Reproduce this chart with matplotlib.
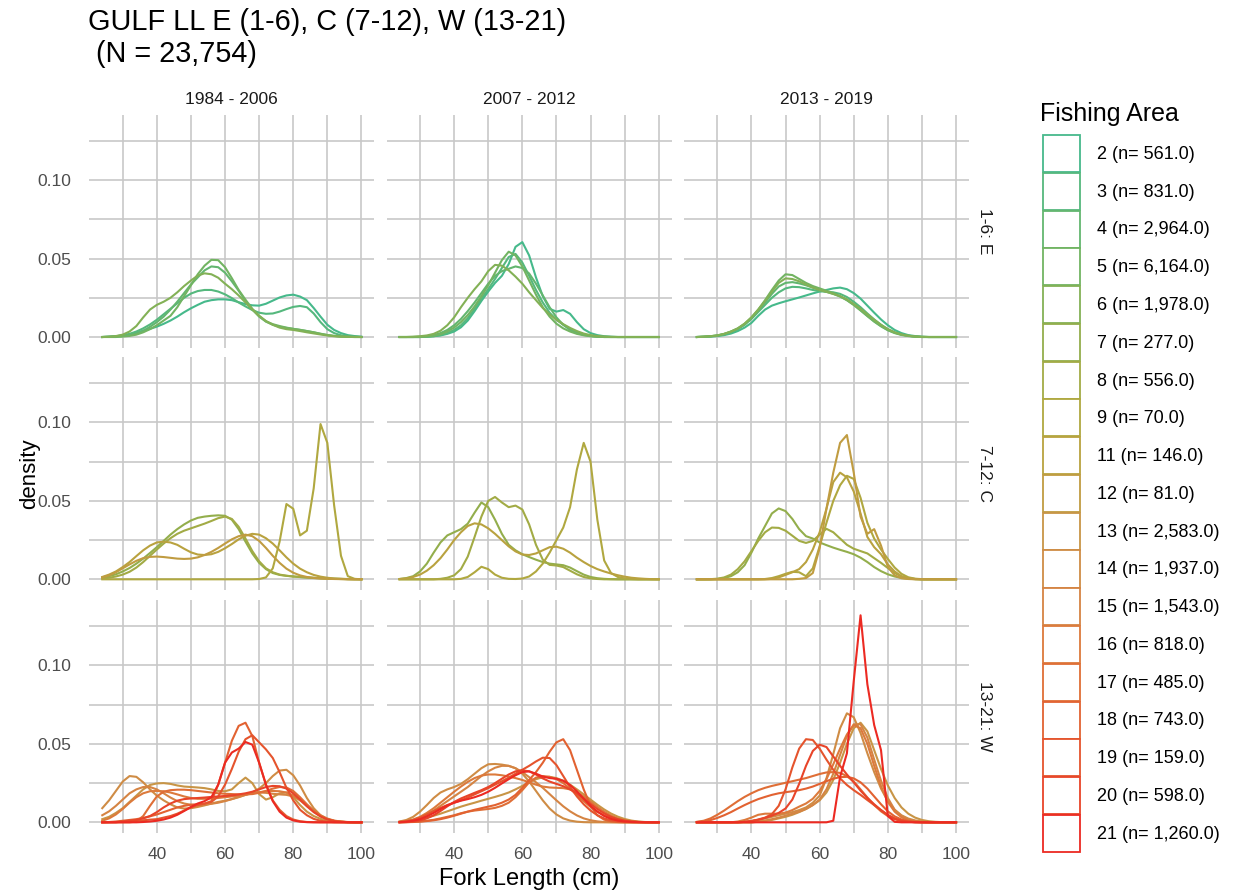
import matplotlib.pyplot as plt
from matplotlib.patches import Patch

plt.rcParams['font.family'] = ['Liberation Sans', 'DejaVu Sans']

# -----------------------------------------------------------------------------
# Data: density of fork length (cm) by fishing area, period and region
# -----------------------------------------------------------------------------
FORK_LENGTH = [24, 26, 28, 30, 32, 34, 36, 38,
               40, 42, 44, 46, 48, 50, 52, 54, 56, 58,
               60, 62, 64, 66, 68, 70, 72, 74, 76, 78,
               80, 82, 84, 86, 88, 90, 92, 94, 96, 98, 100]

AREAS = [2, 3, 4, 5, 6, 7, 8, 9, 11, 12, 13, 14, 15, 16, 17, 18, 19, 20, 21]
AREA_COUNTS = [561, 831, 2964, 6164, 1978, 277, 556, 70, 146, 81,
               2583, 1937, 1543, 818, 485, 743, 159, 598, 1260]
AREA_COLORS = ["#46b98b", "#55b87d", "#63b66f", "#72b462", "#83b156",
               "#93ae4c", "#a2ab45", "#b0a840", "#b9a23f", "#c09c41",
               "#c89546", "#cf8c45", "#d58443", "#dc7a3c", "#df6e36",
               "#e26231", "#e5542d", "#e84429", "#ec2a22"]

PERIODS = ["1984 - 2006", "2007 - 2012", "2013 - 2019"]
REGIONS = ["1-6: E", "7-12: C", "13-21: W"]

E_1984 = {
    2: [0, 0.0002, 0.0005, 0.001, 0.0017, 0.0027, 0.004, 0.0052,
        0.0066, 0.0084, 0.0105, 0.013, 0.0158, 0.0183, 0.0205, 0.0225, 0.0235, 0.024,
        0.024, 0.0235, 0.0222, 0.021, 0.0202, 0.020, 0.0212, 0.0232, 0.0252, 0.0265,
        0.027, 0.0258, 0.0235, 0.0185, 0.013, 0.0078, 0.0045, 0.0025, 0.0012, 0.0006, 0.0002],
    3: [0, 0.0002, 0.0005, 0.001, 0.002, 0.0035, 0.0055, 0.008,
        0.011, 0.0145, 0.018, 0.0215, 0.025, 0.0277, 0.0293, 0.030, 0.030, 0.029,
        0.0272, 0.0248, 0.022, 0.0195, 0.0172, 0.0155, 0.0148, 0.015, 0.0162, 0.0178,
        0.0192, 0.0198, 0.019, 0.015, 0.0095, 0.005, 0.0025, 0.0011, 0.0005, 0.0002, 0],
    4: [0, 0.0001, 0.0003, 0.0006, 0.0012, 0.0022, 0.004, 0.0065,
        0.0095, 0.013, 0.0175, 0.0225, 0.028, 0.0335, 0.038, 0.0425, 0.045, 0.0445,
        0.041, 0.0355, 0.0295, 0.023, 0.0175, 0.013, 0.0098, 0.0078, 0.0065, 0.0058,
        0.0052, 0.0046, 0.0038, 0.003, 0.0021, 0.0013, 0.0007, 0.0003, 0.0001, 0, 0],
    5: [0, 0, 0, 0.0003, 0.0007, 0.0015, 0.003, 0.005,
        0.0075, 0.0105, 0.0135, 0.019, 0.026, 0.033, 0.040, 0.0455, 0.0492, 0.049,
        0.0445, 0.0375, 0.030, 0.0238, 0.018, 0.0135, 0.010, 0.0082, 0.007, 0.006,
        0.0052, 0.0045, 0.0038, 0.003, 0.002, 0.0012, 0.0007, 0.0004, 0.0002, 0.0001, 0],
    6: [0, 0.0002, 0.0006, 0.0015, 0.0035, 0.007, 0.0125, 0.0175,
        0.0205, 0.0225, 0.025, 0.0285, 0.0325, 0.036, 0.0392, 0.0406, 0.040, 0.0378,
        0.034, 0.0305, 0.0265, 0.022, 0.0175, 0.0135, 0.0102, 0.0078, 0.006, 0.005,
        0.0045, 0.0038, 0.003, 0.0023, 0.0016, 0.001, 0.0005, 0.0002, 0.0001, 0, 0],
}

E_2007 = {
    2: [0, 0, 0, 0, 0.0002, 0.0005, 0.001, 0.002,
        0.0035, 0.0062, 0.0105, 0.0165, 0.023, 0.029, 0.0345, 0.039, 0.0465, 0.0575,
        0.0605, 0.052, 0.038, 0.026, 0.018, 0.0162, 0.0172, 0.0148, 0.0095, 0.005,
        0.0025, 0.0012, 0.0005, 0.0002, 0, 0, 0, 0, 0, 0, 0],
    3: [0, 0, 0, 0, 0.0002, 0.0005, 0.0012, 0.0025,
        0.0045, 0.0075, 0.012, 0.018, 0.0245, 0.0305, 0.037, 0.044, 0.051, 0.053,
        0.0475, 0.039, 0.030, 0.022, 0.0155, 0.011, 0.0078, 0.0052, 0.003, 0.0016,
        0.0008, 0.0003, 0.0001, 0, 0, 0, 0, 0, 0, 0, 0],
    4: [0, 0, 0, 0.0002, 0.0005, 0.0012, 0.0025, 0.0045,
        0.0075, 0.0115, 0.0165, 0.022, 0.028, 0.034, 0.039, 0.042, 0.0435, 0.045,
        0.044, 0.0405, 0.034, 0.0265, 0.019, 0.0125, 0.0078, 0.0045, 0.0025, 0.0013,
        0.0006, 0.0002, 0, 0, 0, 0, 0, 0, 0, 0, 0],
    5: [0, 0, 0, 0, 0.0003, 0.0008, 0.0018, 0.0035,
        0.006, 0.0095, 0.014, 0.0195, 0.026, 0.033, 0.041, 0.049, 0.0544, 0.052,
        0.045, 0.036, 0.027, 0.019, 0.013, 0.0085, 0.0055, 0.0035, 0.002, 0.0011,
        0.0005, 0.0002, 0, 0, 0, 0, 0, 0, 0, 0, 0],
    6: [0, 0, 0.0002, 0.0005, 0.001, 0.002, 0.004, 0.0075,
        0.0125, 0.019, 0.025, 0.0305, 0.0355, 0.042, 0.046, 0.0455, 0.0425, 0.0385,
        0.034, 0.0285, 0.0235, 0.0185, 0.0145, 0.011, 0.0082, 0.0058, 0.0038, 0.0022,
        0.0012, 0.0006, 0.0003, 0.0001, 0, 0, 0, 0, 0, 0, 0],
}

E_2013 = {
    2: [0, 0.0001, 0.0003, 0.0006, 0.0012, 0.0022, 0.0038, 0.006,
        0.009, 0.0135, 0.0175, 0.020, 0.0215, 0.0228, 0.024, 0.0252, 0.0265, 0.0278,
        0.029, 0.030, 0.031, 0.0315, 0.0305, 0.028, 0.0245, 0.020, 0.0155, 0.0112,
        0.0075, 0.0045, 0.0025, 0.0012, 0.0006, 0.0002, 0, 0, 0, 0, 0],
    3: [0, 0.0001, 0.0004, 0.0008, 0.0016, 0.003, 0.005, 0.0078,
        0.0115, 0.016, 0.0205, 0.025, 0.0285, 0.031, 0.032, 0.0318, 0.031, 0.030,
        0.0292, 0.0288, 0.0285, 0.0275, 0.0255, 0.0225, 0.019, 0.015, 0.0112, 0.0078,
        0.005, 0.003, 0.0016, 0.0008, 0.0003, 0, 0, 0, 0, 0, 0],
    4: [0, 0.0002, 0.0005, 0.001, 0.0019, 0.0033, 0.0053, 0.008,
        0.012, 0.0168, 0.022, 0.0275, 0.0322, 0.0345, 0.035, 0.0342, 0.033, 0.0315,
        0.030, 0.0288, 0.0275, 0.0258, 0.0235, 0.0205, 0.017, 0.0133, 0.0098, 0.0068,
        0.0043, 0.0025, 0.0013, 0.0006, 0.0002, 0, 0, 0, 0, 0, 0],
    5: [0, 0.0002, 0.0005, 0.001, 0.002, 0.0035, 0.0055, 0.0085,
        0.0125, 0.0175, 0.0235, 0.030, 0.036, 0.040, 0.0395, 0.037, 0.0345, 0.0325,
        0.031, 0.0295, 0.028, 0.026, 0.0235, 0.0205, 0.017, 0.0135, 0.010, 0.007,
        0.0045, 0.0027, 0.0015, 0.0008, 0.0003, 0.0001, 0, 0, 0, 0, 0],
    6: [0, 0.0002, 0.0005, 0.001, 0.002, 0.0035, 0.0055, 0.0085,
        0.0125, 0.0175, 0.023, 0.029, 0.0345, 0.0374, 0.037, 0.0355, 0.0335, 0.0315,
        0.030, 0.0288, 0.0275, 0.026, 0.024, 0.021, 0.018, 0.0145, 0.011, 0.0078,
        0.005, 0.003, 0.0016, 0.0008, 0.0003, 0.0001, 0, 0, 0, 0, 0],
}

C_1984 = {
    7: [0.0012, 0.002, 0.0032, 0.005, 0.0072, 0.010, 0.0132, 0.0168,
        0.0205, 0.0245, 0.0285, 0.032, 0.035, 0.0375, 0.0392, 0.040, 0.0405, 0.0408,
        0.0405, 0.038, 0.032, 0.024, 0.0165, 0.0105, 0.0065, 0.004, 0.0028, 0.0022,
        0.0018, 0.0015, 0.0012, 0.001, 0.0008, 0.0006, 0.0004, 0.0003, 0.0002, 0.0001, 0.0001],
    8: [0.0005, 0.001, 0.0018, 0.003, 0.0048, 0.0075, 0.011, 0.015,
        0.019, 0.0228, 0.0262, 0.029, 0.031, 0.0325, 0.034, 0.0355, 0.0372, 0.039,
        0.040, 0.0385, 0.0335, 0.026, 0.018, 0.0115, 0.007, 0.0045, 0.003, 0.0023,
        0.0018, 0.0014, 0.0011, 0.0008, 0.0006, 0.0004, 0.0003, 0.0002, 0.0001, 0, 0],
    9: [0, 0, 0, 0, 0, 0, 0, 0,
        0, 0, 0, 0, 0, 0, 0, 0, 0, 0,
        0, 0, 0, 0, 0, 0.0002, 0.0012, 0.007, 0.024, 0.048,
        0.045, 0.028, 0.031, 0.058, 0.099, 0.087, 0.047, 0.015, 0.002, 0.0003, 0],
    11: [0.0015, 0.003, 0.005, 0.0078, 0.011, 0.0148, 0.0185, 0.0215,
         0.0235, 0.024, 0.0235, 0.022, 0.0195, 0.0172, 0.0158, 0.0155, 0.016, 0.0175,
         0.0198, 0.0225, 0.0255, 0.0278, 0.029, 0.0285, 0.0262, 0.0228, 0.0185, 0.014,
         0.010, 0.0068, 0.0045, 0.0028, 0.0017, 0.001, 0.0005, 0.0003, 0.0001, 0, 0],
    12: [0.0012, 0.0025, 0.0045, 0.007, 0.0095, 0.0118, 0.0135, 0.0143,
         0.0145, 0.0142, 0.0137, 0.0132, 0.013, 0.0132, 0.014, 0.0155, 0.0175, 0.020,
         0.0228, 0.0255, 0.0275, 0.0285, 0.0275, 0.0245, 0.020, 0.015, 0.0105, 0.0068,
         0.0042, 0.0025, 0.0015, 0.0009, 0.0005, 0.0003, 0.0002, 0.0001, 0, 0, 0],
}

C_2007 = {
    7: [0.0002, 0.0008, 0.002, 0.005, 0.010, 0.017, 0.0235, 0.028,
        0.030, 0.032, 0.0355, 0.0425, 0.049, 0.046, 0.038, 0.029, 0.022, 0.0185,
        0.016, 0.0142, 0.0125, 0.011, 0.010, 0.0095, 0.009, 0.0075, 0.0052, 0.003,
        0.0015, 0.0007, 0.0003, 0.0001, 0, 0, 0, 0, 0, 0, 0],
    8: [0, 0, 0, 0, 0, 0, 0.0003, 0.001,
        0.0025, 0.0065, 0.0145, 0.027, 0.040, 0.050, 0.0525, 0.049, 0.046, 0.047,
        0.0445, 0.035, 0.022, 0.0125, 0.0092, 0.0088, 0.0078, 0.0055, 0.0032, 0.0015,
        0.0006, 0.0002, 0, 0, 0, 0, 0, 0, 0, 0, 0],
    9: [0, 0, 0, 0, 0, 0, 0, 0,
        0, 0.0003, 0.0015, 0.0045, 0.008, 0.0065, 0.003, 0.001, 0.0003, 0.0002,
        0.0005, 0.0018, 0.005, 0.010, 0.017, 0.025, 0.033, 0.046, 0.070, 0.087,
        0.075, 0.038, 0.012, 0.004, 0.0015, 0.0006, 0.0002, 0, 0, 0, 0],
    11: [0.0002, 0.0006, 0.0015, 0.003, 0.0055, 0.009, 0.0135, 0.019,
         0.025, 0.030, 0.034, 0.0357, 0.035, 0.0325, 0.029, 0.025, 0.021, 0.0178,
         0.0158, 0.0155, 0.0165, 0.0185, 0.0205, 0.0208, 0.0195, 0.017, 0.0138, 0.011,
         0.0085, 0.0065, 0.005, 0.0037, 0.0026, 0.0017, 0.001, 0.0006, 0.0003, 0.0001, 0],
}

C_2013 = {
    7: [0, 0, 0, 0.0002, 0.0008, 0.002, 0.0045, 0.009,
        0.017, 0.026, 0.034, 0.042, 0.0452, 0.0435, 0.0385, 0.032, 0.0275, 0.026,
        0.0235, 0.0218, 0.0202, 0.0188, 0.0175, 0.016, 0.0138, 0.011, 0.0078, 0.0052,
        0.0032, 0.0018, 0.0009, 0.0004, 0.0001, 0, 0, 0, 0, 0, 0],
    8: [0, 0, 0.0001, 0.0004, 0.0012, 0.003, 0.0065, 0.0115,
        0.018, 0.0245, 0.030, 0.033, 0.0328, 0.031, 0.0278, 0.0245, 0.0232, 0.0245,
        0.0285, 0.0322, 0.030, 0.026, 0.022, 0.0195, 0.018, 0.0165, 0.0135, 0.0105,
        0.0072, 0.004, 0.0018, 0.0007, 0.0002, 0, 0, 0, 0, 0, 0],
    9: [0, 0, 0, 0, 0, 0, 0, 0,
        0, 0, 0.0002, 0.0008, 0.002, 0.0035, 0.0048, 0.0045, 0.002, 0.007,
        0.021, 0.036, 0.050, 0.060, 0.066, 0.064, 0.052, 0.036, 0.026, 0.019,
        0.013, 0.0075, 0.0035, 0.0013, 0.0004, 0.0001, 0, 0, 0, 0, 0],
    11: [0, 0, 0, 0, 0, 0, 0, 0,
         0, 0, 0, 0.0003, 0.0012, 0.0028, 0.0045, 0.0065, 0.011, 0.019,
         0.030, 0.045, 0.062, 0.068, 0.065, 0.056, 0.042, 0.027, 0.0205, 0.016,
         0.0095, 0.005, 0.002, 0.0007, 0.0002, 0, 0, 0, 0, 0, 0],
    12: [0, 0, 0, 0, 0, 0, 0, 0,
         0, 0, 0, 0, 0, 0, 0, 0.0003, 0.0008, 0.004,
         0.020, 0.045, 0.068, 0.087, 0.092, 0.068, 0.040, 0.029, 0.032, 0.0215,
         0.008, 0.0025, 0.0007, 0.0002, 0, 0, 0, 0, 0, 0, 0],
}

W_1984 = {
    13: [0.002, 0.0035, 0.006, 0.009, 0.013, 0.017, 0.021, 0.0238,
         0.0248, 0.025, 0.0245, 0.0235, 0.0228, 0.0225, 0.0222, 0.0218, 0.021, 0.020,
         0.0198, 0.021, 0.025, 0.0285, 0.025, 0.018, 0.0145, 0.016, 0.0185, 0.019,
         0.016, 0.011, 0.0068, 0.004, 0.0022, 0.0011, 0.0005, 0.0002, 0.0001, 0, 0],
    14: [0.009, 0.014, 0.020, 0.026, 0.0295, 0.029, 0.0255, 0.021,
         0.017, 0.014, 0.0115, 0.0095, 0.0088, 0.009, 0.0098, 0.0108, 0.012, 0.013,
         0.0138, 0.0148, 0.016, 0.0175, 0.019, 0.0215, 0.025, 0.0295, 0.033, 0.0335,
         0.030, 0.0235, 0.0155, 0.009, 0.0045, 0.002, 0.0008, 0.0003, 0.0001, 0, 0],
    15: [0.0045, 0.007, 0.0105, 0.0145, 0.0185, 0.021, 0.0225, 0.0225,
         0.021, 0.0185, 0.0158, 0.0135, 0.012, 0.0112, 0.011, 0.0112, 0.0118, 0.0125,
         0.0135, 0.0148, 0.0162, 0.0175, 0.0185, 0.019, 0.0188, 0.0182, 0.0178, 0.0175,
         0.0165, 0.014, 0.0105, 0.007, 0.004, 0.002, 0.0009, 0.0004, 0.0001, 0, 0],
    16: [0.001, 0.0025, 0.005, 0.0085, 0.0125, 0.016, 0.0185, 0.0198,
         0.020, 0.0198, 0.019, 0.0178, 0.0165, 0.0155, 0.015, 0.015, 0.0152, 0.0155,
         0.016, 0.0165, 0.017, 0.0178, 0.0185, 0.0192, 0.0198, 0.020, 0.0198, 0.019,
         0.0172, 0.0145, 0.011, 0.0075, 0.0045, 0.0024, 0.0011, 0.0005, 0.0002, 0.0001, 0],
    17: [0, 0, 0, 0, 0, 0.0005, 0.004, 0.0105,
         0.0165, 0.0195, 0.0205, 0.0208, 0.0208, 0.0205, 0.020, 0.0195, 0.019, 0.0185,
         0.0182, 0.018, 0.0178, 0.0178, 0.018, 0.0188, 0.020, 0.0215, 0.0225, 0.0222,
         0.020, 0.016, 0.0115, 0.0072, 0.004, 0.002, 0.0009, 0.0004, 0.0001, 0, 0],
    18: [0, 0.0002, 0.0005, 0.001, 0.0015, 0.002, 0.0028, 0.0038,
         0.005, 0.0065, 0.008, 0.0095, 0.0105, 0.0112, 0.0115, 0.0118, 0.0135, 0.024,
         0.038, 0.052, 0.0615, 0.0635, 0.055, 0.038, 0.024, 0.014, 0.008, 0.004,
         0.0018, 0.0007, 0.0002, 0.0001, 0, 0, 0, 0, 0, 0, 0],
    19: [0, 0.0001, 0.0002, 0.0004, 0.0006, 0.0009, 0.0013, 0.0017,
         0.002, 0.003, 0.004, 0.0055, 0.0075, 0.0095, 0.011, 0.012, 0.013, 0.0165,
         0.024, 0.034, 0.045, 0.053, 0.0555, 0.051, 0.0465, 0.041, 0.032, 0.022,
         0.014, 0.008, 0.0045, 0.0022, 0.001, 0.0004, 0.0001, 0, 0, 0, 0],
    20: [0, 0, 0, 0.0005, 0.001, 0.0015, 0.0025, 0.004,
         0.0065, 0.0095, 0.012, 0.0138, 0.0148, 0.0152, 0.0155, 0.0158, 0.0162, 0.0165,
         0.0168, 0.0172, 0.0178, 0.0185, 0.0195, 0.021, 0.0225, 0.0232, 0.023, 0.0215,
         0.0185, 0.0145, 0.0102, 0.0065, 0.0037, 0.0019, 0.0008, 0.0003, 0.0001, 0, 0],
    21: [0, 0, 0, 0, 0, 0, 0.0002, 0.0005,
         0.001, 0.0018, 0.003, 0.0048, 0.0072, 0.0098, 0.012, 0.0135, 0.016, 0.024,
         0.038, 0.0445, 0.047, 0.0512, 0.0495, 0.038, 0.024, 0.0135, 0.0068, 0.003,
         0.0012, 0.0004, 0.0001, 0, 0, 0, 0, 0, 0, 0, 0],
}

W_2007 = {
    13: [0.0003, 0.0007, 0.0013, 0.002, 0.003, 0.0042, 0.0055, 0.007,
         0.0085, 0.010, 0.0113, 0.0125, 0.0138, 0.015, 0.0162, 0.0175, 0.019, 0.021,
         0.0232, 0.0255, 0.0275, 0.0287, 0.029, 0.0282, 0.0265, 0.024, 0.021, 0.0178,
         0.0145, 0.0112, 0.0082, 0.0056, 0.0036, 0.0021, 0.0011, 0.0005, 0.0002, 0.0001, 0],
    14: [0.0005, 0.0015, 0.0035, 0.0068, 0.011, 0.0155, 0.019, 0.021,
         0.0225, 0.0245, 0.0275, 0.031, 0.0345, 0.037, 0.0372, 0.0368, 0.036, 0.0345,
         0.031, 0.026, 0.020, 0.014, 0.0088, 0.005, 0.0025, 0.0011, 0.0004, 0.0001,
         0, 0, 0, 0, 0, 0, 0, 0, 0, 0, 0],
    15: [0.0002, 0.0006, 0.0014, 0.0028, 0.0048, 0.0075, 0.0105, 0.0135,
         0.0165, 0.0195, 0.0225, 0.026, 0.0295, 0.0325, 0.0348, 0.036, 0.036, 0.0345,
         0.032, 0.0288, 0.0255, 0.022, 0.018, 0.014, 0.0102, 0.007, 0.0044, 0.0025,
         0.0013, 0.0006, 0.0002, 0.0001, 0, 0, 0, 0, 0, 0, 0],
    16: [0.0003, 0.0008, 0.0018, 0.0035, 0.006, 0.009, 0.0125, 0.016,
         0.0195, 0.0228, 0.0258, 0.0282, 0.0298, 0.0305, 0.0305, 0.030, 0.0292, 0.0282,
         0.027, 0.0255, 0.024, 0.0228, 0.0222, 0.022, 0.0218, 0.021, 0.0192, 0.0165,
         0.0132, 0.0098, 0.0068, 0.0043, 0.0025, 0.0013, 0.0006, 0.0003, 0.0001, 0, 0],
    17: [0, 0.0001, 0.0003, 0.0006, 0.001, 0.0016, 0.0025, 0.0035,
         0.0045, 0.0058, 0.0068, 0.0075, 0.008, 0.0085, 0.0092, 0.0105, 0.0125, 0.016,
         0.0205, 0.0255, 0.0285, 0.0295, 0.029, 0.0275, 0.025, 0.0215, 0.0175, 0.0135,
         0.0098, 0.0068, 0.0045, 0.0028, 0.0017, 0.001, 0.0005, 0.0002, 0.0001, 0, 0],
    18: [0, 0.0001, 0.0002, 0.0004, 0.0008, 0.0013, 0.002, 0.003,
         0.0042, 0.0055, 0.0068, 0.008, 0.009, 0.010, 0.011, 0.0125, 0.0145, 0.0175,
         0.022, 0.027, 0.032, 0.038, 0.045, 0.051, 0.053, 0.046, 0.0335, 0.021,
         0.0105, 0.0045, 0.0017, 0.0006, 0.0002, 0, 0, 0, 0, 0, 0],
    19: [0.0002, 0.0006, 0.0015, 0.003, 0.005, 0.0072, 0.0092, 0.011,
         0.0125, 0.014, 0.0158, 0.0178, 0.0198, 0.0218, 0.024, 0.0262, 0.0285, 0.031,
         0.0335, 0.036, 0.0388, 0.0412, 0.041, 0.0365, 0.0295, 0.0225, 0.0165, 0.0115,
         0.0075, 0.0045, 0.0025, 0.0013, 0.0006, 0.0003, 0.0001, 0, 0, 0, 0],
    20: [0, 0.0002, 0.0005, 0.0012, 0.0025, 0.0045, 0.0072, 0.0102,
         0.013, 0.0152, 0.017, 0.0188, 0.0205, 0.0225, 0.025, 0.0278, 0.0305, 0.0325,
         0.0332, 0.0325, 0.0305, 0.028, 0.026, 0.0245, 0.023, 0.021, 0.0185, 0.0152,
         0.0118, 0.0085, 0.0057, 0.0035, 0.002, 0.001, 0.0005, 0.0002, 0.0001, 0, 0],
    21: [0.0001, 0.0004, 0.001, 0.002, 0.0038, 0.006, 0.0085, 0.0108,
         0.0125, 0.0138, 0.0148, 0.016, 0.0175, 0.0195, 0.022, 0.0248, 0.0275, 0.030,
         0.032, 0.0325, 0.031, 0.0292, 0.0282, 0.0278, 0.0265, 0.0238, 0.0198, 0.015,
         0.0105, 0.0068, 0.004, 0.0022, 0.0011, 0.0005, 0.0002, 0.0001, 0, 0, 0],
}

W_2013 = {
    13: [0, 0, 0, 0, 0, 0, 0, 0,
         0, 0.0003, 0.0008, 0.0015, 0.0025, 0.0035, 0.0048, 0.0065, 0.0085, 0.011,
         0.014, 0.019, 0.027, 0.038, 0.050, 0.060, 0.0635, 0.058, 0.046, 0.034,
         0.0235, 0.0155, 0.0095, 0.0055, 0.003, 0.0015, 0.0007, 0.0003, 0.0001, 0, 0],
    14: [0, 0, 0, 0, 0, 0, 0, 0.0003,
         0.0008, 0.0015, 0.0025, 0.0035, 0.0045, 0.0055, 0.0065, 0.0078, 0.0095, 0.0125,
         0.017, 0.028, 0.0435, 0.060, 0.0695, 0.067, 0.057, 0.044, 0.032, 0.0215,
         0.0135, 0.008, 0.0045, 0.0024, 0.0012, 0.0005, 0.0002, 0, 0, 0, 0],
    15: [0, 0, 0, 0, 0, 0, 0, 0,
         0, 0.0005, 0.0012, 0.002, 0.003, 0.0042, 0.0055, 0.0068, 0.0085, 0.011,
         0.0145, 0.021, 0.031, 0.043, 0.055, 0.0625, 0.0625, 0.054, 0.040, 0.0265,
         0.0155, 0.008, 0.004, 0.0018, 0.0008, 0.0003, 0.0001, 0, 0, 0, 0],
    16: [0, 0, 0, 0, 0, 0, 0.0005, 0.0015,
         0.003, 0.0048, 0.0055, 0.0055, 0.0055, 0.0062, 0.0078, 0.010, 0.012, 0.015,
         0.020, 0.0275, 0.037, 0.047, 0.056, 0.062, 0.060, 0.050, 0.036, 0.023,
         0.013, 0.0068, 0.0032, 0.0014, 0.0006, 0.0002, 0, 0, 0, 0, 0],
    17: [0.0003, 0.001, 0.0025, 0.0048, 0.0075, 0.0105, 0.0135, 0.0162,
         0.0185, 0.0205, 0.022, 0.0232, 0.0242, 0.0252, 0.0262, 0.0272, 0.0282, 0.0295,
         0.0308, 0.0318, 0.032, 0.0315, 0.0295, 0.026, 0.021, 0.0158, 0.011, 0.007,
         0.004, 0.002, 0.0009, 0.0004, 0.0001, 0, 0, 0, 0, 0, 0],
    18: [0.0002, 0.0006, 0.0014, 0.0028, 0.0045, 0.0065, 0.0088, 0.011,
         0.013, 0.0148, 0.0162, 0.0175, 0.0185, 0.0192, 0.0198, 0.0205, 0.0215, 0.0228,
         0.0245, 0.0262, 0.0278, 0.0288, 0.029, 0.028, 0.0255, 0.0215, 0.0165, 0.0115,
         0.007, 0.0038, 0.0018, 0.0008, 0.0003, 0.0001, 0, 0, 0, 0, 0],
    19: [0, 0, 0, 0, 0, 0, 0, 0.0003,
         0.0008, 0.0018, 0.003, 0.0052, 0.0105, 0.021, 0.035, 0.047, 0.053, 0.0525,
         0.047, 0.040, 0.0335, 0.028, 0.0238, 0.0205, 0.0175, 0.0142, 0.011, 0.0078,
         0.0048, 0.0025, 0.0011, 0.0004, 0.0001, 0, 0, 0, 0, 0, 0],
    20: [0, 0, 0, 0, 0, 0, 0, 0.0003,
         0.0008, 0.0016, 0.0028, 0.0042, 0.006, 0.0088, 0.0145, 0.0245, 0.036, 0.0455,
         0.0495, 0.048, 0.042, 0.036, 0.0305, 0.0255, 0.0202, 0.0155, 0.0115, 0.0078,
         0.0045, 0.0022, 0.0009, 0.0003, 0.0001, 0, 0, 0, 0, 0, 0],
    21: [0, 0, 0, 0, 0, 0, 0, 0,
         0, 0, 0, 0, 0, 0, 0, 0, 0, 0,
         0, 0, 0.001, 0.029, 0.044, 0.090, 0.132, 0.088, 0.062, 0.046,
         0.004, 0.0003, 0, 0, 0, 0, 0, 0, 0, 0, 0],
}

PANELS = [[E_1984, E_2007, E_2013],
          [C_1984, C_2007, C_2013],
          [W_1984, W_2007, W_2013]]

# -----------------------------------------------------------------------------
# Layout (pixels of a 1233 x 894 canvas)
# -----------------------------------------------------------------------------
W, H = 1233, 894
COL_LEFT = [89.3, 386.6, 683.9]
ROW_TOP = [114.7, 357.0, 600.0]
PANEL_W, PANEL_H = 285.1, 232.9
GRID_COLOR = "#c8c8c8"
TEXT_DARK = "#4d4d4d"

fig = plt.figure(figsize=(W / 100, H / 100), dpi=100)

color_of = dict(zip(AREAS, AREA_COLORS))

for r in range(3):
    for c in range(3):
        ax = fig.add_axes([COL_LEFT[c] / W, 1 - (ROW_TOP[r] + PANEL_H) / H,
                           PANEL_W / W, PANEL_H / H])
        for area, dens in PANELS[r][c].items():
            ax.plot(FORK_LENGTH, dens, color=color_of[area], lw=1.5,
                    solid_joinstyle='round', zorder=3)
        ax.set_xlim(20.2, 103.8)
        ax.set_ylim(-0.00675, 0.14175)
        ax.set_xticks([40, 60, 80, 100])
        ax.set_xticks([30, 50, 70, 90], minor=True)
        ax.set_yticks([0.0, 0.05, 0.10])
        ax.set_yticklabels(["0.00", "0.05", "0.10"])
        ax.set_yticks([0.025, 0.075, 0.125], minor=True)
        ax.grid(which='both', color=GRID_COLOR, lw=1.2)
        ax.set_axisbelow(True)
        for s in ax.spines.values():
            s.set_visible(False)
        ax.tick_params(which='both', length=0, labelsize=12.5,
                       labelcolor=TEXT_DARK,
                       labelleft=(c == 0), labelbottom=(r == 2))
        ax.tick_params(axis='y', pad=13)
        ax.tick_params(axis='x', pad=10)

# facet strips
for c, period in enumerate(PERIODS):
    fig.text((COL_LEFT[c] + PANEL_W / 2) / W, 1 - 100 / H, period,
             ha='center', va='center', fontsize=12.5, color="#1a1a1a")
for r, region in enumerate(REGIONS):
    fig.text(985 / W, 1 - (ROW_TOP[r] + PANEL_H / 2) / H, region,
             ha='center', va='center', rotation=270, fontsize=12.5, color="#1a1a1a")

# titles
fig.text(88 / W, 1 - 8 / H, "GULF LL E (1-6), C (7-12), W (13-21)\n (N = 23,754)",
         ha='left', va='top', fontsize=20.8, color='black', linespacing=1.2)
fig.text(529 / W, 1 - 879 / H, "Fork Length (cm)", ha='center', va='center',
         fontsize=17, color='black')
fig.text(30 / W, 1 - 474 / H, "density", ha='center', va='center',
         rotation=90, fontsize=16, color='black')

# legend
fig.text(1040 / W, 1 - 114 / H, "Fishing Area", ha='left', va='center',
         fontsize=18, color='black')
handles = [Patch(facecolor='white', edgecolor=col, lw=1.3) for col in AREA_COLORS]
labels = [f"{a} (n= {n:,.1f})" for a, n in zip(AREAS, AREA_COUNTS)]
fig.legend(handles, labels, loc='upper left', bbox_to_anchor=(1043 / W, 1 - 135 / H),
           frameon=False, fontsize=13,
           handlelength=2.05, handleheight=2.78, labelspacing=0.04,
           handletextpad=0.94, borderpad=0, borderaxespad=0, alignment='left')

fig.savefig("out.png", dpi=100)
